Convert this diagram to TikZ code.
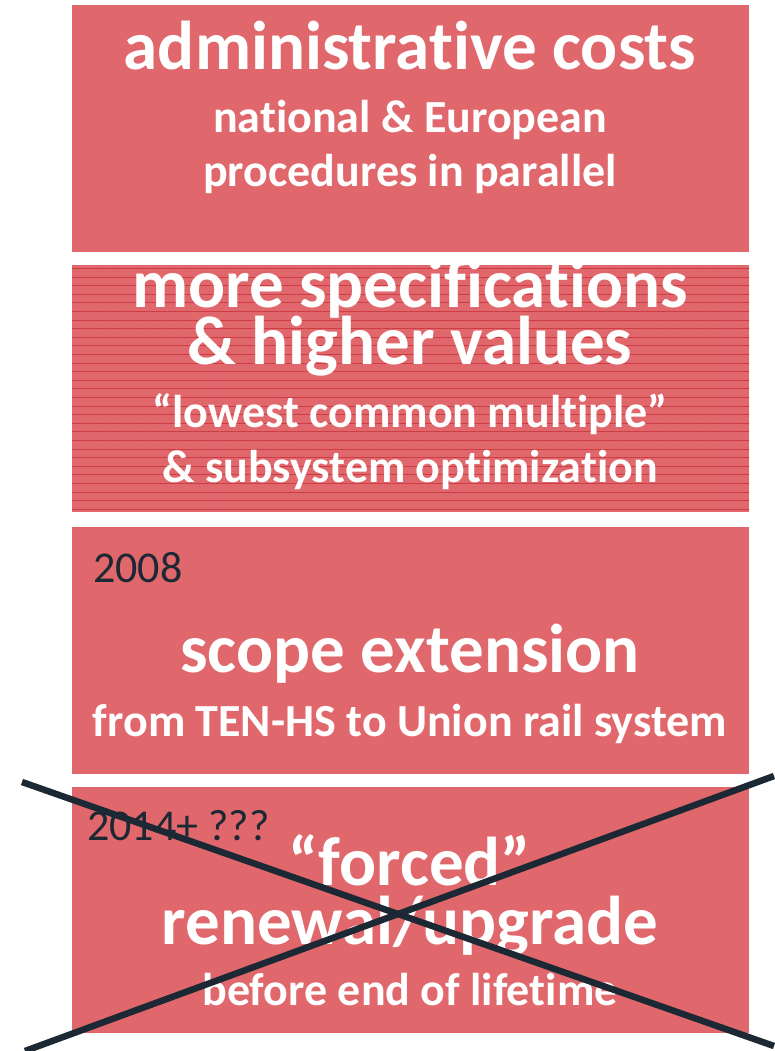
\documentclass[tikz,border=0pt]{standalone}
\usepackage{fontspec}
\setmainfont{Carlito}[Ligatures=CommonOff]
\usetikzlibrary{patterns.meta}
\definecolor{boxred}{RGB}{224,104,108}
\definecolor{stripe}{RGB}{205,60,66}
\definecolor{navy}{RGB}{28,40,51}
\tikzset{
  panel/.style={fill=boxred, draw=none},
  big/.style={text=white, font=\bfseries\fontsize{69}{69}\selectfont, anchor=base, inner sep=0pt},
  small/.style={text=white, font=\bfseries\fontsize{46}{46}\selectfont, anchor=base, inner sep=0pt},
  year/.style={text=navy, font=\fontsize{44}{44}\selectfont, anchor=base west, inner sep=0pt},
  cross/.style={draw=navy, line width=6.5pt}
}
\begin{document}
\begin{tikzpicture}[x=1pt,y=-1pt]
\useasboundingbox (0,0) rectangle (774,1051);
% panels
\path[panel] (72,5) rectangle (749,252);
\path[panel] (72,265) rectangle (749,512);
\path[pattern={Lines[angle=0,distance=8.6pt,line width=0.9pt]}, pattern color=stripe] (72,265) rectangle (749,512);
\path[panel] (72,527) rectangle (749,774);
\path[panel] (72,787) rectangle (749,1033);
% box 1
\node[big] (t1) at (410,70) {administrative costs};
\node[small] (s1a) at (410,133) {national \& European};
\node[small] (s1b) at (410,186) {procedures in parallel};
% box 2
\node[big] (t2a) at (410,307) {more specifications};
\node[big] (t2b) at (410,364) {\& higher values};
\node[small] (s2a) at (410,427) {“lowest common multiple”};
\node[small] (s2b) at (410,482) {\& subsystem optimization};
% box 3
\node[year] (y3) at (93,582) {2008};
\node[big] (t3) at (410,672) {scope extension};
\node[small] (s3) at (410,736) {from TEN-HS to Union rail system};
% box 4
\node[year] (y4) at (87,840) {2014+ ???};
\node[big] (t4a) at (410,885) {“forced”};
\node[big] (t4b) at (410,944) {renewal/upgrade};
\node[small] (s4) at (410,1005) {before end of lifetime};
% cross
\coordinate (c1) at (22,782);
\coordinate (c2) at (774,1046);
\coordinate (c3) at (25,1051);
\coordinate (c4) at (774,776);
\draw[cross] (c1) -- (c2);
\draw[cross] (c3) -- (c4);
\end{tikzpicture}
\end{document}
